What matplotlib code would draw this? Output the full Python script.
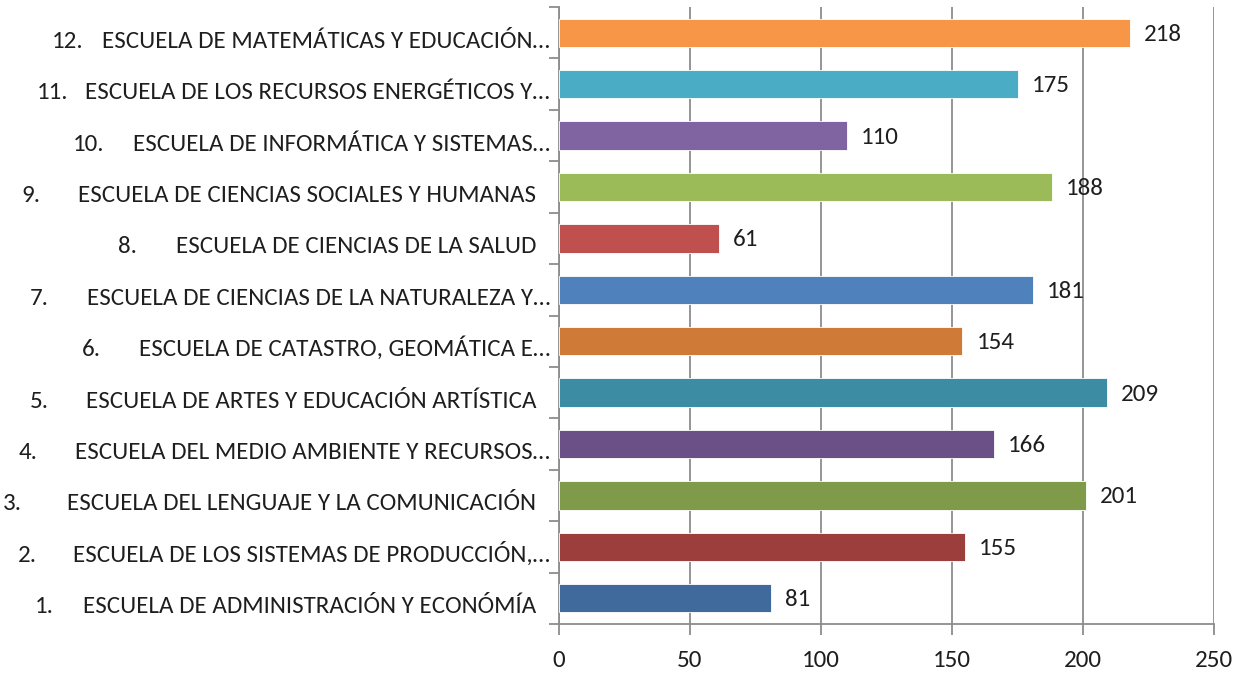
import matplotlib
matplotlib.use("Agg")
import matplotlib.pyplot as plt
from matplotlib import font_manager
from matplotlib.transforms import blended_transform_factory, ScaledTranslation

# ---------------- data ----------------
numbers = ["1.", "2.", "3.", "4.", "5.", "6.", "7.", "8.", "9.", "10.", "11.", "12."]
schools = [
    "ESCUELA DE ADMINISTRACIÓN Y ECONÓMÍA",
    "ESCUELA DE LOS SISTEMAS DE PRODUCCIÓN,…",
    "ESCUELA DEL LENGUAJE Y LA COMUNICACIÓN",
    "ESCUELA DEL MEDIO AMBIENTE Y RECURSOS…",
    "ESCUELA DE ARTES Y EDUCACIÓN ARTÍSTICA",
    "ESCUELA DE CATASTRO, GEOMÁTICA E…",
    "ESCUELA DE CIENCIAS DE LA NATURALEZA Y…",
    "ESCUELA DE CIENCIAS DE LA SALUD",
    "ESCUELA DE CIENCIAS SOCIALES Y HUMANAS",
    "ESCUELA DE INFORMÁTICA Y SISTEMAS…",
    "ESCUELA DE LOS RECURSOS ENERGÉTICOS Y…",
    "ESCUELA DE MATEMÁTICAS Y EDUCACIÓN…",
]
values = [81, 155, 201, 166, 209, 154, 181, 61, 188, 110, 175, 218]
x_ticks = [0, 50, 100, 150, 200, 250]

# ---------------- style ----------------
colors = ["#416A9C", "#9C3E3C", "#7F9A49", "#6A5087", "#3C8DA3", "#CF7B37",
          "#4F81BD", "#C0504D", "#9BBB59", "#8064A2", "#4BACC6", "#F79646"]
# gap (px) between number start and label start, mimicking tab stops
num_gaps = [48, 55, 64, 57, 56, 57, 57, 58, 57, 60, 49, 50]

fams = {f.name for f in font_manager.fontManager.ttflist}
if "Carlito" in fams:
    FONT, FS = "Carlito", 18
elif "Lato" in fams:
    FONT, FS = "Lato", 16
else:
    FONT, FS = "Liberation Sans", 14.5
TXT = "#1e1e1e"
GRID = "#8c8c8c"

plt.rcParams["font.family"] = [FONT, "DejaVu Sans"]

W, H = 1246, 673
fig = plt.figure(figsize=(W / 100, H / 100), dpi=100)
ax = fig.add_axes([559 / W, 1 - 624 / H, (1214 - 559) / W, (624 - 7) / H])

ypos = list(range(len(values)))
ax.barh(ypos, values, height=0.55, color=colors, edgecolor="white",
        linewidth=0.6, zorder=3)

ax.set_xlim(x_ticks[0], x_ticks[-1])
ax.set_ylim(-0.5, len(values) - 0.5)
ax.set_xticks(x_ticks)
ax.set_xticklabels([str(t) for t in x_ticks], fontsize=FS, color=TXT)
ax.grid(axis="x", color=GRID, linewidth=1.3, zorder=0)
ax.set_axisbelow(True)

for s in ["top", "right"]:
    ax.spines[s].set_visible(False)
for s in ["left", "bottom"]:
    ax.spines[s].set_color(GRID)
    ax.spines[s].set_linewidth(1.3)

ax.tick_params(axis="x", length=8, width=1.3, color=GRID, pad=11)
ax.set_yticks(ypos)
ax.set_yticklabels([])
ax.tick_params(axis="y", which="major", length=0)
ax.set_yticks([i - 0.5 for i in range(len(values) + 1)], minor=True)
ax.tick_params(axis="y", which="minor", length=7, width=1.3, color=GRID)

# baseline shifts (category labels sit slightly below the bar centre)
BASE_LAB = -15 / 100
BASE_VAL = -8 / 100

# category labels (right-aligned against the axis)
trans = blended_transform_factory(ax.transAxes, ax.transData)
label_texts = []
for i, name in enumerate(schools):
    end_pad = 9 if name.endswith("…") else 23
    t = ax.text(0, i, name, fontsize=FS, color=TXT, ha="right", va="baseline",
                transform=trans + ScaledTranslation(-end_pad / 100, BASE_LAB, fig.dpi_scale_trans))
    label_texts.append(t)

fig.canvas.draw()
renderer = fig.canvas.get_renderer()
ax_x0 = ax.get_window_extent().x0
for i, (num, t) in enumerate(zip(numbers, label_texts)):
    x0 = t.get_window_extent(renderer).x0
    off = (x0 - num_gaps[i] - ax_x0) / 100
    ax.text(0, i, num, fontsize=FS, color=TXT, ha="left", va="baseline",
            transform=trans + ScaledTranslation(off, BASE_LAB, fig.dpi_scale_trans))

# value labels
for i, v in enumerate(values):
    ax.text(v, i, str(v), fontsize=FS, color=TXT, ha="left", va="baseline",
            transform=ax.transData + ScaledTranslation(14 / 100, BASE_VAL, fig.dpi_scale_trans))

fig.savefig("out.png", dpi=100, facecolor="white")
